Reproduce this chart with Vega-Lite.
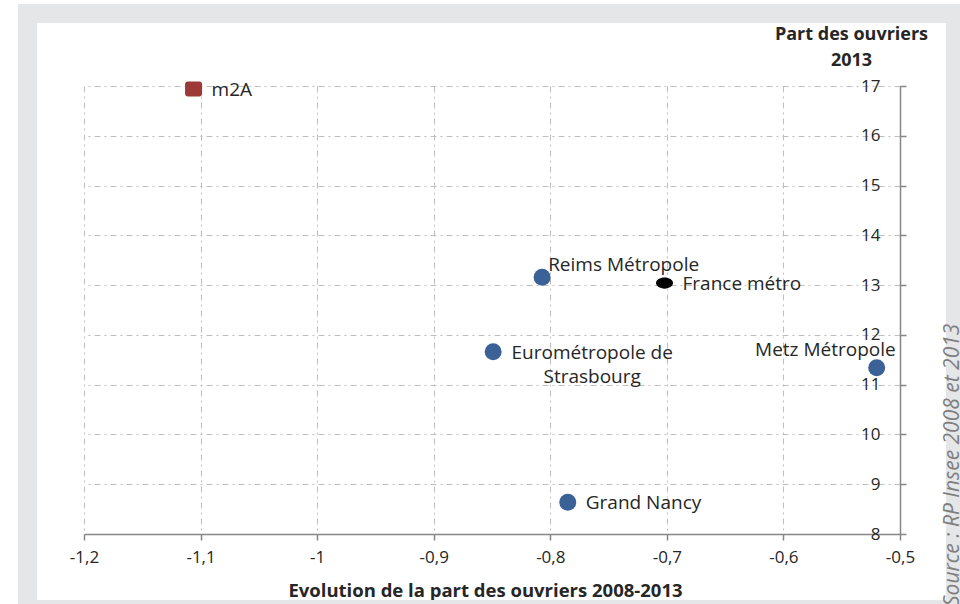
{
  "$schema": "https://vega.github.io/schema/vega-lite/v6.json",
  "width": 816,
  "height": 448,
  "autosize": {"type": "none"},
  "padding": {"left": 84, "top": 86, "right": 60, "bottom": 70},
  "background": "white",
  "config": {
    "view": {"stroke": null},
    "font": "Open Sans",
    "locale": {"number": {"decimal": ",", "thousands": " ", "grouping": [3], "currency": ["", " €"], "minus": "-"}}
  },
  "datasets": {
    "pts": [
      {"nom": "m2A", "etiquette": "m2A", "evol": -1.106, "part": 16.94, "groupe": "m2A"},
      {"nom": "Reims Métropole", "etiquette": "Reims Métropole", "evol": -0.807, "part": 13.16, "groupe": "EPCI"},
      {"nom": "France métro", "etiquette": "France métro", "evol": -0.702, "part": 13.04, "groupe": "France"},
      {"nom": "Eurométropole de Strasbourg", "etiquette": "Eurométropole de\nStrasbourg", "evol": -0.849, "part": 11.66, "groupe": "EPCI"},
      {"nom": "Metz Métropole", "etiquette": "Metz Métropole", "evol": -0.52, "part": 11.34, "groupe": "EPCI"},
      {"nom": "Grand Nancy", "etiquette": "Grand Nancy", "evol": -0.785, "part": 8.64, "groupe": "EPCI"}
    ]
  },
  "layer": [
    {
      "data": {"name": "pts"},
      "mark": {"type": "point", "filled": true, "opacity": 1, "strokeWidth": 0, "size": 289},
      "encoding": {
        "x": {
          "field": "evol", "type": "quantitative",
          "scale": {"domain": [-1.2, -0.5], "nice": false, "zero": false},
          "axis": {
            "values": [-1.2, -1.1, -1, -0.9, -0.8, -0.7, -0.6, -0.5],
            "format": ".1~f",
            "grid": true, "gridColor": "#bfbfbf", "gridDash": [6, 4, 2, 4], "gridWidth": 1,
            "domainColor": "#868686", "domainWidth": 1.5,
            "tickColor": "#868686", "tickWidth": 1.5, "tickSize": 6,
            "labelFont": "Open Sans", "labelFontSize": 17, "labelColor": "#262626", "labelPadding": 9,
            "labelFlush": false, "labelOverlap": false,
            "title": "Evolution de la part des ouvriers 2008-2013",
            "titleFont": "Open Sans", "titleFontSize": 18.5, "titleFontWeight": "bold", "titleColor": "#262626",
            "titleX": 401, "titleY": 56, "titleBaseline": "middle", "titleAlign": "center"
          }
        },
        "y": {
          "field": "part", "type": "quantitative",
          "scale": {"domain": [8, 17], "nice": false, "zero": false},
          "axis": {
            "orient": "right",
            "values": [8, 9, 10, 11, 12, 13, 14, 15, 16, 17],
            "format": "d",
            "grid": true, "gridColor": "#bfbfbf", "gridDash": [6, 4, 2, 4], "gridWidth": 1,
            "domainColor": "#868686", "domainWidth": 1.5,
            "tickColor": "#868686", "tickWidth": 1.5, "tickSize": 6,
            "labelFont": "Open Sans", "labelFontSize": 17, "labelColor": "#262626",
            "labelAlign": "right", "labelBaseline": "middle", "labelPadding": -26,
            "labelFlush": false, "labelOverlap": false,
            "title": ["Part des ouvriers", "2013"],
            "titleFont": "Open Sans", "titleFontSize": 18, "titleFontWeight": "bold", "titleColor": "#262626",
            "titleAngle": 0, "titleAlign": "center", "titleX": -49, "titleY": -47,
            "titleBaseline": "alphabetic", "titleLineHeight": 26
          }
        },
        "color": {
          "field": "groupe", "type": "nominal",
          "scale": {"domain": ["EPCI", "m2A", "France"], "range": ["#3b6297", "#9b3a36", "#000000"]},
          "legend": null
        },
        "shape": {
          "field": "groupe", "type": "nominal",
          "scale": {
            "domain": ["EPCI", "m2A", "France"],
            "range": [
              "circle",
              "M-0.65,-0.88L0.65,-0.88Q1,-0.88,1,-0.53L1,0.53Q1,0.88,0.65,0.88L-0.65,0.88Q-1,0.88,-1,0.53L-1,-0.53Q-1,-0.88,-0.65,-0.88Z",
              "M-1,0A1,0.65,0,1,1,1,0A1,0.65,0,1,1,-1,0Z"
            ]
          },
          "legend": null
        }
      }
    },
    {
      "data": {"values": [{}]},
      "mark": {"type": "rect", "color": "#e5e6e8"},
      "encoding": {
        "x": {"datum": -1.2566, "type": "quantitative"},
        "x2": {"datum": -1.2403},
        "y": {"datum": 18.647, "type": "quantitative"},
        "y2": {"datum": 6}
      }
    },
    {
      "data": {"values": [{}]},
      "mark": {"type": "rect", "color": "#e5e6e8"},
      "encoding": {
        "x": {"datum": -1.2566, "type": "quantitative"},
        "x2": {"datum": -0.4},
        "y": {"datum": 18.647, "type": "quantitative"},
        "y2": {"datum": 18.2656}
      }
    },
    {
      "data": {"values": [{}]},
      "mark": {"type": "rect", "color": "#e5e6e8"},
      "encoding": {
        "x": {"datum": -0.46054, "type": "quantitative"},
        "x2": {"datum": -0.4},
        "y": {"datum": 18.647, "type": "quantitative"},
        "y2": {"datum": 6}
      }
    },
    {
      "data": {"values": [{}]},
      "mark": {"type": "rect", "color": "#e5e6e8"},
      "encoding": {
        "x": {"datum": -1.2566, "type": "quantitative"},
        "x2": {"datum": -0.4},
        "y": {"datum": 6.674, "type": "quantitative"},
        "y2": {"datum": 6}
      }
    },
    {
      "data": {"name": "pts"},
      "transform": [{"filter": {"field": "nom", "oneOf": ["m2A", "France métro", "Grand Nancy"]}}],
      "mark": {"type": "text", "align": "left", "baseline": "middle", "dx": 18, "dy": 1, "font": "Open Sans", "fontSize": 19, "color": "#262626"},
      "encoding": {
        "x": {"field": "evol", "type": "quantitative"},
        "y": {"field": "part", "type": "quantitative"},
        "text": {"field": "etiquette"}
      }
    },
    {
      "data": {"name": "pts"},
      "transform": [{"filter": {"field": "nom", "equal": "Reims Métropole"}}],
      "mark": {"type": "text", "align": "left", "baseline": "middle", "dx": 6, "dy": -12, "font": "Open Sans", "fontSize": 19, "color": "#262626"},
      "encoding": {
        "x": {"field": "evol", "type": "quantitative"},
        "y": {"field": "part", "type": "quantitative"},
        "text": {"field": "etiquette"}
      }
    },
    {
      "data": {"name": "pts"},
      "transform": [{"filter": {"field": "nom", "equal": "Eurométropole de Strasbourg"}}],
      "mark": {"type": "text", "align": "center", "baseline": "middle", "dx": 99, "dy": 1, "lineBreak": "\n", "lineHeight": 24, "font": "Open Sans", "fontSize": 19, "color": "#262626"},
      "encoding": {
        "x": {"field": "evol", "type": "quantitative"},
        "y": {"field": "part", "type": "quantitative"},
        "text": {"field": "etiquette"}
      }
    },
    {
      "data": {"name": "pts"},
      "transform": [{"filter": {"field": "nom", "equal": "Metz Métropole"}}],
      "mark": {"type": "text", "align": "right", "baseline": "middle", "dx": 19, "dy": -18, "font": "Open Sans", "fontSize": 19, "color": "#262626"},
      "encoding": {
        "x": {"field": "evol", "type": "quantitative"},
        "y": {"field": "part", "type": "quantitative"},
        "text": {"field": "etiquette"}
      }
    },
    {
      "data": {"values": [{}]},
      "mark": {"type": "text", "text": "Source : RP Insee 2008 et 2013", "angle": 270, "align": "left", "baseline": "middle", "font": "Open Sans", "fontStyle": "italic", "fontSize": 21, "color": "#7f7f7f"},
      "encoding": {
        "x": {"datum": -0.45453, "type": "quantitative"},
        "y": {"datum": 6.554, "type": "quantitative"}
      }
    }
  ]
}
